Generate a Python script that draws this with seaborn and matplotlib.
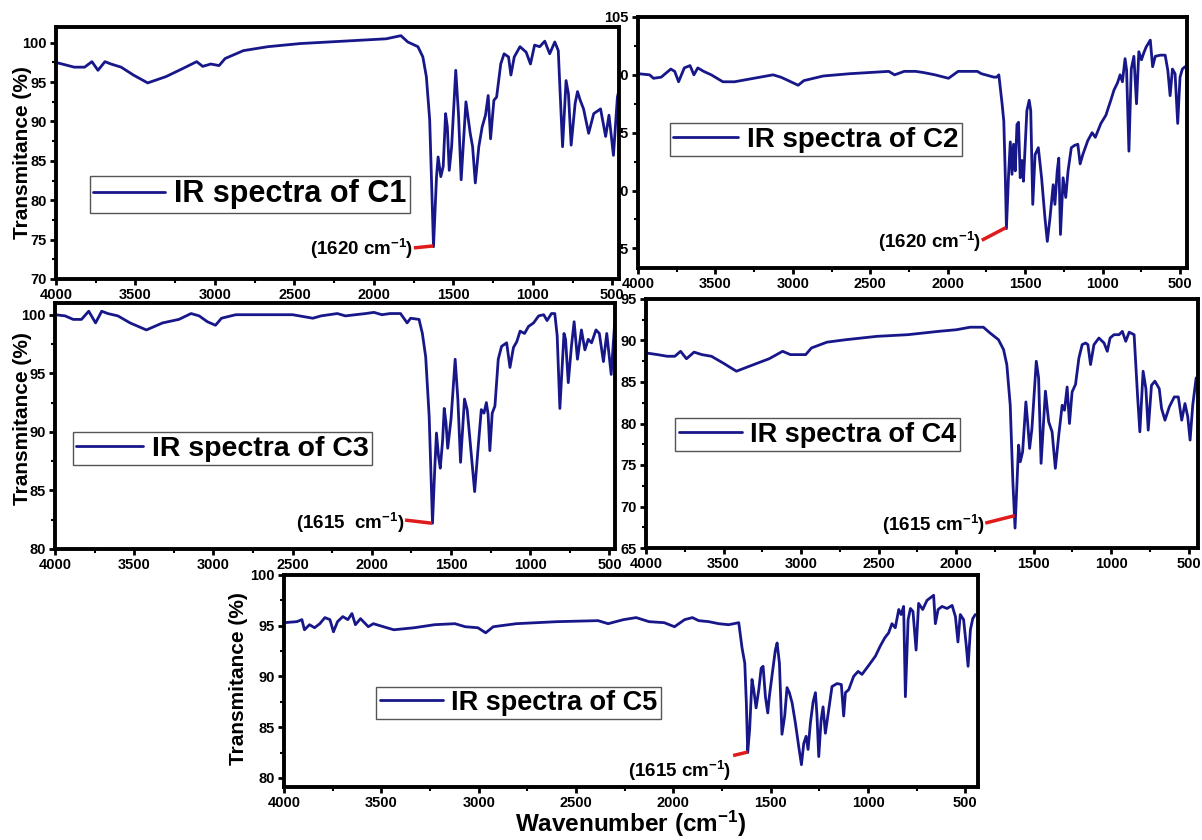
import matplotlib
matplotlib.use("Agg")
import matplotlib.pyplot as plt
import seaborn as sns
from matplotlib.ticker import AutoMinorLocator, FixedLocator

sns.set_style("white")
plt.rcParams['font.family'] = ['Liberation Sans', 'DejaVu Sans']
plt.rcParams['font.weight'] = 'bold'
plt.rcParams['mathtext.default'] = 'regular'
plt.rcParams['text.color'] = 'black'
plt.rcParams['axes.labelcolor'] = 'black'
plt.rcParams['xtick.color'] = 'black'
plt.rcParams['ytick.color'] = 'black'

# ---------------- data (wavenumber cm-1, transmittance %) ----------------
c1_wn = [4000, 3885, 3820, 3774, 3736, 3692, 3654, 3590, 3513, 3423, 3308, 3205, 3115, 3077, 3026,
         2974, 2936, 2821, 2667, 2462, 2282, 2103, 1923, 1830, 1787, 1723, 1692, 1670, 1649, 1625,
         1606, 1596, 1579, 1564, 1549, 1538, 1526, 1511, 1485, 1468, 1451, 1421, 1394, 1379, 1362,
         1340, 1319, 1298, 1281, 1266, 1245, 1228, 1202, 1181, 1153, 1138, 1117, 1081, 1042, 1015,
         989, 957, 925, 894, 862, 840, 830, 813, 791, 776, 759, 734, 719, 702, 681, 649, 617, 574,
         542, 521, 493, 468, 447]
c1_t = [97.5, 96.9, 96.9, 97.6, 96.5, 97.6, 97.3, 96.9, 95.9, 94.9, 95.7, 96.7, 97.6, 97.0, 97.3,
        97.1, 98.0, 99.0, 99.5, 99.9, 100.1, 100.3, 100.5, 100.9, 100.1, 99.5, 98.2, 95.7, 90.2, 74.1,
        83.0, 85.5, 83.0, 84.3, 91.0, 89.3, 83.8, 86.8, 96.5, 91.0, 82.6, 92.5, 88.5, 86.8, 82.2,
        86.8, 89.3, 90.8, 93.3, 87.8, 92.7, 93.1, 97.3, 98.6, 98.2, 95.9, 98.2, 99.5, 98.8, 97.3,
        99.7, 99.5, 100.2, 98.6, 100.1, 99.0, 94.4, 86.8, 95.2, 93.5, 87.0, 92.3, 93.8, 92.7, 91.6,
        88.5, 91.0, 91.6, 88.1, 90.8, 85.7, 93.1, 95.0]

c2_wn = [4000, 3925, 3900, 3850, 3788, 3763, 3738, 3701, 3664, 3639, 3614, 3576, 3527, 3452, 3377,
         3253, 3128, 3078, 3029, 2966, 2929, 2804, 2630, 2505, 2381, 2343, 2281, 2207, 2157, 2082,
         1995, 1933, 1870, 1809, 1783, 1702, 1684, 1670, 1649, 1638, 1628, 1621, 1607, 1596, 1585,
         1575, 1564, 1553, 1543, 1532, 1521, 1511, 1489, 1474, 1464, 1451, 1436, 1415, 1394, 1372,
         1357, 1340, 1319, 1308, 1293, 1283, 1272, 1255, 1238, 1223, 1202, 1181, 1160, 1145, 1128,
         1096, 1068, 1047, 1011, 979, 947, 926, 904, 887, 872, 855, 845, 830, 815, 798, 781, 766,
         749, 734, 719, 692, 677, 660, 628, 596, 579, 564, 549, 532, 515, 500, 485, 468]
c2_t = [100.1, 100.0, 99.7, 99.8, 100.5, 100.3, 99.4, 100.6, 100.8, 100.0, 100.6, 100.3, 100.0, 99.4, 99.4,
        99.7, 100.0, 99.8, 99.5, 99.1, 99.5, 99.9, 100.1, 100.2, 100.3, 100.0, 100.3, 100.3, 100.2, 100.0,
        99.7, 100.3, 100.3, 100.3, 100.1, 99.8, 99.8, 100.0, 97.5, 96.0, 91.1, 86.7, 91.4, 94.2, 91.4,
        94.0, 91.7, 95.7, 95.9, 91.1, 92.6, 90.8, 96.9, 97.8, 96.9, 88.8, 93.1, 93.7, 91.1, 87.6,
        85.6, 87.6, 90.5, 88.8, 91.7, 92.8, 86.2, 91.1, 89.4, 91.7, 93.7, 93.9, 94.0, 92.3, 93.1,
        94.3, 95.0, 94.6, 95.8, 96.5, 97.8, 98.7, 99.3, 100.0, 99.4, 101.4, 100.4, 93.4, 100.5, 101.6, 97.5, 102.0,
        101.3, 101.9, 102.4, 103.0, 100.7, 101.6, 101.7, 101.7, 100.4, 98.2, 100.5, 100.1, 95.8, 99.8, 100.5, 100.7]

c3_wn = [4000, 3936, 3885, 3833, 3787, 3744, 3705, 3667, 3603, 3526, 3423, 3321, 3218, 3141, 3090,
         3038, 2987, 2949, 2859, 2680, 2500, 2372, 2321, 2218, 2167, 2039, 1987, 1936, 1885, 1833,
         1819, 1777, 1755, 1702, 1681, 1660, 1638, 1617, 1602, 1592, 1579, 1568, 1553, 1543, 1532,
         1521, 1500, 1474, 1457, 1440, 1415, 1398, 1377, 1351, 1330, 1309, 1292, 1277, 1266, 1255,
         1240, 1223, 1202, 1181, 1149, 1128, 1106, 1085, 1064, 1036, 1011, 979, 947, 915, 894, 866,
         845, 830, 813, 787, 777, 760, 740, 723, 702, 677, 655, 634, 613, 585, 564, 538, 517, 489,
         468, 447]
c3_t = [100.0, 99.9, 99.6, 99.6, 100.3, 99.3, 100.3, 100.1, 99.9, 99.3, 98.7, 99.3, 99.6, 100.1, 99.9,
        99.4, 99.1, 99.7, 100.0, 100.0, 100.0, 99.7, 99.9, 100.1, 99.9, 100.1, 100.2, 100.0, 100.1, 100.1,
        100.1, 99.3, 99.7, 99.6, 98.4, 96.4, 91.3, 82.2, 87.1, 89.9, 87.9, 86.9, 89.3, 92.0, 90.8,
        88.6, 91.1, 96.2, 92.8, 87.4, 92.8, 91.9, 88.8, 84.9, 88.5, 91.9, 91.6, 92.5, 91.5, 88.4,
        91.6, 92.2, 96.2, 97.3, 97.6, 95.5, 97.2, 97.7, 98.6, 98.4, 99.0, 99.3, 99.9, 100.0, 99.5, 100.1,
        100.1, 98.2, 92.0, 98.4, 97.9, 94.2, 97.3, 99.4, 96.2, 98.7, 97.0, 97.9, 97.6, 98.7, 98.4, 96.0, 98.4, 94.9,
        99.1, 100.7]

c4_wn = [4000, 3926, 3863, 3814, 3777, 3739, 3690, 3640, 3578, 3504, 3417, 3305, 3206, 3119, 3069,
         3007, 2970, 2933, 2833, 2709, 2511, 2312, 2114, 1997, 1910, 1824, 1781, 1727, 1694, 1673,
         1651, 1634, 1620, 1608, 1597, 1586, 1571, 1550, 1539, 1526, 1511, 1483, 1468, 1452, 1424,
         1403, 1381, 1360, 1338, 1316, 1301, 1284, 1269, 1252, 1230, 1208, 1187, 1165, 1150, 1133,
         1111, 1079, 1046, 1025, 1007, 982, 949, 928, 906, 884, 852, 830, 815, 794, 776, 761, 740,
         718, 690, 675, 653, 625, 593, 567, 545, 524, 506, 491, 474, 452]
c4_t = [88.5, 88.3, 88.1, 88.1, 88.7, 87.8, 88.6, 88.3, 88.1, 87.3, 86.3, 87.1, 87.8, 88.7, 88.3,
        88.3, 88.3, 89.1, 89.8, 90.1, 90.5, 90.7, 91.1, 91.3, 91.6, 91.6, 90.9, 90.1, 88.9, 87.1,
        82.2, 73.0, 67.4, 72.6, 77.4, 75.4, 76.6, 82.6, 80.2, 77.0, 79.4, 87.5, 85.5, 75.2, 83.9,
        80.2, 79.0, 74.6, 78.6, 82.2, 81.6, 84.4, 80.0, 83.8, 84.7, 87.9, 89.5, 89.7, 89.5, 87.1,
        89.5, 90.3, 89.7, 88.7, 90.3, 90.7, 90.7, 91.1, 89.9, 91.0, 90.7, 83.4, 79.0, 86.3, 84.2, 79.2, 84.6,
        85.1, 84.2, 81.8, 80.4, 82.0, 83.2, 83.2, 80.4, 82.4, 80.8, 78.0, 82.2, 85.5]

c5_wn = [4000, 3934, 3908, 3895, 3869, 3843, 3816, 3790, 3764, 3746, 3725, 3698, 3672, 3651, 3633,
         3607, 3567, 3541, 3489, 3436, 3331, 3227, 3122, 3069, 3004, 2964, 2925, 2807, 2597, 2387,
         2335, 2256, 2191, 2125, 2047, 1994, 1942, 1902, 1870, 1818, 1767, 1716, 1690, 1664, 1647,
         1633, 1625, 1618, 1608, 1596, 1587, 1575, 1561, 1549, 1539, 1527, 1515, 1507, 1489, 1476,
         1467, 1455, 1442, 1428, 1416, 1404, 1390, 1373, 1356, 1342, 1330, 1318, 1308, 1296, 1282,
         1270, 1262, 1253, 1241, 1231, 1219, 1202, 1185, 1159, 1137, 1125, 1116, 1099, 1074, 1051,
         1031, 996, 962, 937, 914, 894, 877, 860, 842, 830, 817, 808, 794, 782, 769, 753, 740, 719,
         697, 663, 654, 640, 620, 594, 568, 551, 538, 526, 509, 495, 486, 474, 462, 449]
c5_t = [95.3, 95.4, 95.6, 94.6, 95.1, 94.8, 95.2, 95.8, 95.6, 94.4, 95.4, 95.9, 95.6, 96.2, 95.1,
        95.7, 94.9, 95.2, 94.9, 94.6, 94.8, 95.1, 95.2, 94.9, 94.8, 94.3, 94.9, 95.2, 95.4, 95.5,
        95.2, 95.6, 95.8, 95.4, 95.3, 94.9, 95.6, 95.8, 95.5, 95.4, 95.2, 95.1, 95.2, 95.3, 92.8,
        91.3, 87.4, 82.5, 84.8, 89.7, 88.7, 86.9, 88.7, 90.8, 91.0, 88.0, 86.4, 88.0, 90.7, 92.6,
        93.3, 91.3, 84.3, 86.1, 88.9, 88.4, 87.4, 85.4, 83.1, 81.3, 83.4, 84.1, 82.8, 85.4, 87.5,
        88.4, 86.1, 82.1, 85.7, 87.0, 84.4, 86.7, 89.0, 89.3, 89.2, 86.1, 88.4, 88.7, 90.0, 90.5,
        90.2, 91.1, 92.0, 93.0, 93.8, 94.3, 95.2, 94.8, 96.6, 96.1, 96.9, 88.0, 95.6, 96.7, 96.4, 92.6, 97.2, 96.6,
        97.5, 98.0, 95.2, 96.6, 96.9, 96.7, 97.0, 95.9, 93.4, 96.1, 95.6, 93.0, 91.0, 94.6, 95.7, 96.1]

labels = ["IR spectra of C1", "IR spectra of C2", "IR spectra of C3",
          "IR spectra of C4", "IR spectra of C5"]
peak_texts = ["(1620 cm$^{-1}$)", "(1620 cm$^{-1}$)", "(1615  cm$^{-1}$)",
              "(1615 cm$^{-1}$)", "(1615 cm$^{-1}$)"]
xtick_vals = [4000, 3500, 3000, 2500, 2000, 1500, 1000, 500]
yticks_list = [[70, 75, 80, 85, 90, 95, 100],
               [85, 90, 95, 100, 105],
               [80, 85, 90, 95, 100],
               [65, 70, 75, 80, 85, 90, 95],
               [80, 85, 90, 95, 100]]

# ---------------- layout / styling ----------------
W, H = 1202, 840
NAVY = '#17178a'
fig = plt.figure(figsize=(W / 100, H / 100), dpi=100)
fig.patch.set_facecolor('white')

panels = [
    dict(i=1, wn=c2_wn, t=c2_t, rect=(638, 17, 1187, 268), ylim=(83.3, 105), xr=455,
         leg=(0.058, 0.446), lsz=20, txt=(1785, 85.55, 'right'), line=((1780, 85.7), (1623, 86.8)), yl=None),
    dict(i=0, wn=c1_wn, t=c1_t, rect=(56, 27, 619, 279), ylim=(70, 102), xr=458,
         leg=(0.060, 0.262), lsz=22, txt=(1752, 73.8, 'right'), line=((1748, 73.95), (1627, 74.2)), yl=(-0.043, 0.50)),
    dict(i=3, wn=c4_wn, t=c4_t, rect=(646, 299, 1198, 548), ylim=(65, 95), xr=440,
         leg=(0.053, 0.39), lsz=19.5, txt=(1812, 67.75, 'right'), line=((1812, 68.0), (1622, 68.9)), yl=None),
    dict(i=2, wn=c3_wn, t=c3_t, rect=(55, 303, 615, 549), ylim=(80, 101), xr=465,
         leg=(0.032, 0.341), lsz=20.5, txt=(1792, 82.2, 'right'), line=((1790, 82.47), (1620, 82.2)), yl=(-0.041, 0.53)),
    dict(i=4, wn=c5_wn, t=c5_t, rect=(284, 575, 978, 787), ylim=(79.1, 100), xr=435,
         leg=(0.133, 0.32), lsz=19.5, txt=(1966, 80.7, 'center'), line=((1693, 82.2), (1617, 82.55)), yl=(-0.052, 0.51)),
]

axes = {}
for p in panels:
    l, t, r, b = p['rect']
    ax = fig.add_axes([l / W, 1 - b / H, (r - l) / W, (b - t) / H])
    ax.set_facecolor('white')
    i = p['i']
    sns.lineplot(x=p['wn'], y=p['t'], ax=ax, color=NAVY, linewidth=2.0,
                 estimator=None, sort=False, label=labels[i])
    ax.set_xlim(4000, p['xr'])
    ax.set_ylim(*p['ylim'])
    ax.xaxis.set_major_locator(FixedLocator(xtick_vals))
    ax.yaxis.set_major_locator(FixedLocator(yticks_list[i]))
    ax.xaxis.set_minor_locator(AutoMinorLocator(2))
    ax.yaxis.set_minor_locator(AutoMinorLocator(2))
    ax.tick_params(which='major', direction='out', length=4.5, width=2, labelsize=10.5, pad=2,
                   bottom=True, left=True, top=False, right=False, colors='black')
    ax.tick_params(which='minor', direction='out', length=3, width=1.5,
                   bottom=True, left=True, top=False, right=False, colors='black')
    for s in ax.spines.values():
        s.set_linewidth(2.8)
        s.set_color('black')
    ax.set_xlabel('')
    if p['yl'] is not None:
        ax.set_ylabel('Transmitance (%)', fontsize=15, fontweight='bold', color='black')
        ax.yaxis.set_label_coords(*p['yl'])
    else:
        ax.set_ylabel('')
    leg = ax.legend(loc='lower left', bbox_to_anchor=p['leg'], borderaxespad=0,
                    prop={'weight': 'bold', 'size': p['lsz']}, frameon=True, fancybox=False,
                    framealpha=1, edgecolor='#555555', borderpad=0.12, handlelength=2.35,
                    handletextpad=0.3, labelcolor='black')
    leg.get_frame().set_linewidth(1.0)
    for ln in leg.get_lines():
        ln.set_linewidth(2.0)
    tx, ty, ha = p['txt']
    ax.text(tx, ty, peak_texts[i], ha=ha, va='center', fontsize=13.5, fontweight='bold', color='black')
    (x0, y0), (x1, y1) = p['line']
    ax.plot([x0, x1], [y0, y1], color='#e01b1b', linewidth=2.5, solid_capstyle='butt')
    axes[i] = ax

ax5 = axes[4]
ax5.set_xlabel('Wavenumber (cm$^{-1}$)', fontsize=17.5, fontweight='bold', color='black')
ax5.xaxis.set_label_coords(0.499, -0.105)

fig.savefig('out.png', dpi=100, facecolor='white')
